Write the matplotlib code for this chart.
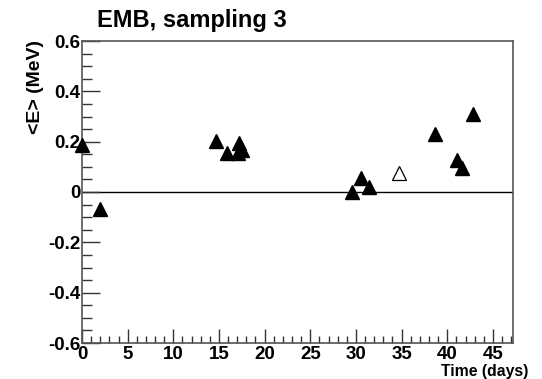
import matplotlib
matplotlib.use("Agg")
import matplotlib.pyplot as plt
from matplotlib.ticker import MultipleLocator, FuncFormatter

plt.rcParams['font.family'] = ['Liberation Sans', 'DejaVu Sans']
plt.rcParams['font.weight'] = 'bold'

time_filled = [0.0, 2.0, 14.7, 15.9, 17.1, 17.2, 17.5, 29.6, 30.6, 31.4, 38.7, 41.1, 41.6, 42.8]
emean_filled = [0.187, -0.068, 0.203, 0.156, 0.156, 0.196, 0.165, 0.0, 0.054, 0.021, 0.229, 0.127, 0.094, 0.309]
time_open = [34.7]
emean_open = [0.077]

fig = plt.figure(figsize=(5.42, 3.79), dpi=100)
ax = fig.add_axes([82/542, 1-343/379, (513-82)/542, (343-41)/379])

ax.axhline(0, color='black', lw=1.0, zorder=1)
ax.plot(time_filled, emean_filled, linestyle='none', marker='^', markersize=10,
        color='black', clip_on=False, zorder=3)
ax.plot(time_open, emean_open, linestyle='none', marker='^', markersize=10,
        markerfacecolor='white', markeredgecolor='black', markeredgewidth=0.9,
        clip_on=False, zorder=3)

ax.set_xlim(0, 47.2)
ax.set_ylim(-0.6, 0.6)
ax.xaxis.set_major_locator(MultipleLocator(5))
ax.xaxis.set_minor_locator(MultipleLocator(1))
ax.yaxis.set_major_locator(MultipleLocator(0.2))
ax.yaxis.set_minor_locator(MultipleLocator(0.05))

def yfmt(v, pos):
    if abs(v) < 1e-9:
        return "0"
    return f"{v:.1f}"
ax.yaxis.set_major_formatter(FuncFormatter(yfmt))

ax.tick_params(axis='both', which='both', direction='in', top=False, right=False,
               color='#333333', width=1.0, labelsize=13.5)
ax.tick_params(axis='y', which='major', length=13, pad=1)
ax.tick_params(axis='y', which='minor', length=7)
ax.tick_params(axis='x', which='major', length=10, pad=2)
ax.tick_params(axis='x', which='minor', length=5)
for lab in ax.get_xticklabels() + ax.get_yticklabels():
    lab.set_fontweight('bold')

for s in ax.spines.values():
    s.set_color('#555555')
    s.set_linewidth(1.2)

fig.text(97/542, 1-21/379, "EMB, sampling 3", fontsize=17, fontweight='bold',
         ha='left', va='center')
fig.text(36/542, 1-40/379, "<E> (MeV)", fontsize=14, fontweight='bold',
         rotation=90, ha='center', va='top')
fig.text(528/542, 1-371.5/379, "Time (days)", fontsize=11.3, fontweight='bold',
         ha='right', va='center')

fig.savefig("out.png", dpi=100)
